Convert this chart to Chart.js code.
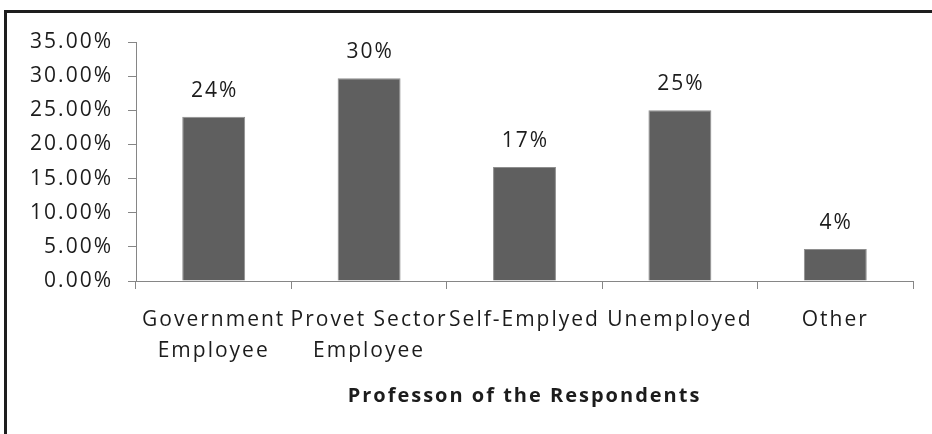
<!DOCTYPE html>
<html>
<head>
<meta charset="utf-8">
<script src="https://cdn.jsdelivr.net/npm/chart.js"></script>
<style>
  html, body { margin: 0; padding: 0; background: #fff; overflow: hidden; }
  body { width: 932px; height: 434px; position: relative; }
  #frame { position: absolute; left: 4px; top: 10px; width: 1000px; height: 600px; border: 3px solid #1e1e1e; }
  #graph1 { position: absolute; left: 0; top: 0; }
</style>
</head>
<body>
<div id="frame"></div>
<canvas id="graph1" width="932" height="434"></canvas>
<script>
// data
let professions = [["Government", "Employee"], ["Provet Sector", "Employee"], "Self-Emplyed", "Unemployed", "Other"];
let shares = [0.2406, 0.297, 0.167, 0.25, 0.047];
let shareLabels = ["24%", "30%", "17%", "25%", "4%"];
let yTicks = [0, 0.05, 0.10, 0.15, 0.20, 0.25, 0.30, 0.35];
let xTitle = "Professon of the Respondents";

const axisGray = "#868686";
const textColor = "#1c1c1c";
const gap = 2;

// wide spacing like the excel render
const spacing = {
    id: "spacing",
    beforeUpdate(chart) { chart.ctx.letterSpacing = gap + "px"; },
    beforeDraw(chart) { chart.ctx.letterSpacing = gap + "px"; }
};

const barLabels = {
    id: "barLabels",
    afterDatasetsDraw(chart) {
        let ctx = chart.ctx;
        let meta = chart.getDatasetMeta(0);
        ctx.save();
        ctx.letterSpacing = gap + "px";
        ctx.font = "21px 'Open Sans'";
        ctx.fillStyle = textColor;
        ctx.textAlign = "center";
        ctx.textBaseline = "middle";
        meta.data.forEach((bar, i) => {
            ctx.fillText(shareLabels[i], bar.x + 1, bar.y - 26);
        });
        ctx.restore();
    }
};

const ctx = document.getElementById("graph1").getContext("2d");
const myChart = new Chart(ctx, {
    type: "bar",
    data: {
        labels: professions,
        datasets: [{
            data: shares,
            backgroundColor: "#5f5f5f",
            borderColor: "#8e8e8e",
            borderWidth: 1,
            barPercentage: 0.405,
            categoryPercentage: 1
        }]
    },
    options: {
        responsive: false,
        animation: false,
        devicePixelRatio: 1,
        layout: { padding: { top: 42, right: 19, left: 0, bottom: 0 } },
        plugins: { legend: { display: false }, tooltip: { enabled: false } },
        scales: {
            x: {
                offset: true,
                grid: { offset: true, drawOnChartArea: false, color: axisGray, tickLength: 8 },
                border: { color: axisGray, width: 1 },
                ticks: {
                    autoSkip: false, maxRotation: 0, minRotation: 0,
                    padding: 15, color: textColor,
                    font: { family: "'Open Sans'", size: 21, lineHeight: 1.5 }
                },
                title: {
                    display: true, text: xTitle, color: textColor,
                    font: { family: "'Open Sans'", size: 20, weight: "bold" },
                    padding: { top: 4, bottom: 26 }
                },
                afterFit(scale) { scale.height = 153; }
            },
            y: {
                min: 0, max: 0.35,
                afterBuildTicks(scale) { scale.ticks = yTicks.map(v => ({ value: v })); },
                grid: { drawOnChartArea: false, color: axisGray, tickLength: 8 },
                border: { color: axisGray, width: 1 },
                ticks: {
                    padding: 17 - gap, color: textColor,
                    font: { family: "'Open Sans'", size: 21 },
                    callback: v => (v * 100).toFixed(2) + "%"
                },
                afterFit(scale) { scale.width = 136; }
            }
        }
    },
    plugins: [spacing, barLabels]
});
</script>
</body>
</html>
